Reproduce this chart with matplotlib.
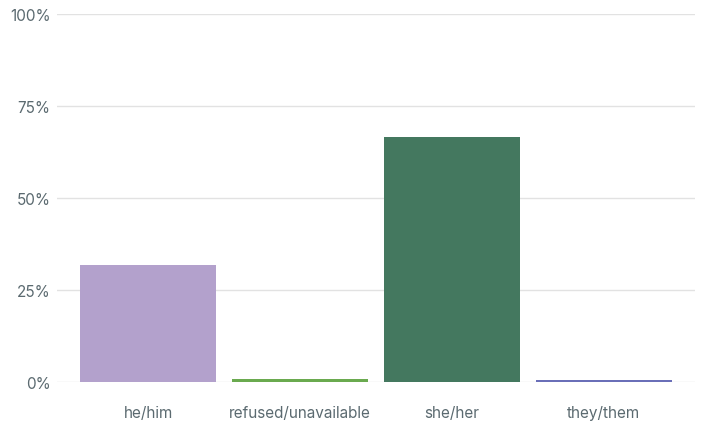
import matplotlib
matplotlib.use("Agg")
import matplotlib.pyplot as plt
from matplotlib.ticker import FuncFormatter

categories = ["he/him", "refused/unavailable", "she/her", "they/them"]
values = [31.9, 0.9, 66.7, 0.5]
colors = ["#b3a1cc", "#6aaa4f", "#44785f", "#6a6fb8"]
yticks = [0, 25, 50, 75, 100]

plt.rcParams['font.family'] = ['Inter', 'DejaVu Sans']
fig = plt.figure(figsize=(7.03, 4.27), dpi=100)
ax = fig.add_axes([57/703, 44/427, 638/703, 368/427])

x = list(range(len(categories)))
ax.bar(x, values, width=0.895, color=colors, zorder=3)
ax.set_xlim(-0.6, 3.6)
ax.set_ylim(0, 100)
ax.set_yticks(yticks)
ax.yaxis.set_major_formatter(FuncFormatter(lambda v, p: f"{int(v)}%"))
ax.set_xticks(x)
ax.set_xticklabels(categories)
ax.grid(axis='y', color='#e2e2e2', linewidth=1, zorder=0)
for s in ax.spines.values():
    s.set_visible(False)
ax.tick_params(axis='both', length=0, labelsize=11, colors='#5b6a70')
ax.tick_params(axis='y', pad=4.5)
ax.tick_params(axis='x', pad=16.5)

fig.savefig("out.png", dpi=100)
